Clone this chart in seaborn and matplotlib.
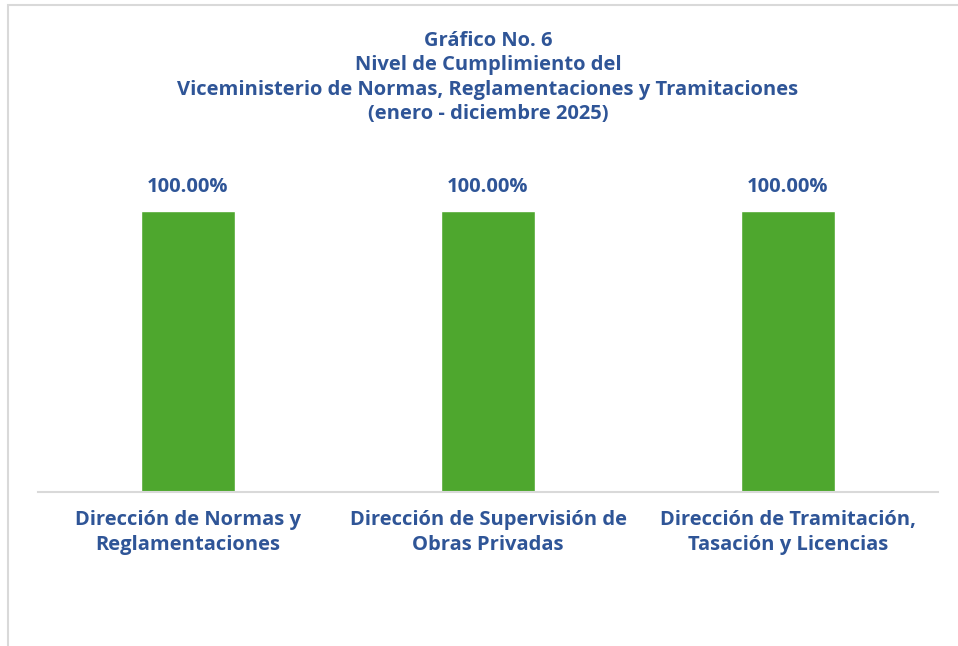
import seaborn as sns
import matplotlib.pyplot as plt
import matplotlib.patches as mpatches
import pandas as pd

categories = [
    "Dirección de Normas y\nReglamentaciones",
    "Dirección de Supervisión de\nObras Privadas",
    "Dirección de Tramitación,\nTasación y Licencias",
]
values = [100.0, 100.0, 100.0]
title_text = ("Gráfico No. 6\nNivel de Cumplimiento del\n"
              "Viceministerio de Normas, Reglamentaciones y Tramitaciones\n"
              "(enero - diciembre 2025)")

BLUE = "#2F5597"
GREEN = "#4EA72E"
FS = 14.5


def main():
    data = pd.DataFrame({"Dirección": categories, "Cumplimiento": values})

    sns.set_theme(style="white")
    plt.rcParams["font.family"] = ["Open Sans", "DejaVu Sans"]

    fig = plt.figure(figsize=(9.58, 6.46), dpi=100)
    ax = fig.add_axes([38 / 958, (646 - 492) / 646, 900 / 958, 337 / 646])

    sns.barplot(x="Dirección", y="Cumplimiento", data=data, color=GREEN,
                width=0.315, saturation=1, ax=ax)

    ax.set_ylim(0, 120)
    ax.set_xlim(-0.5, 2.5)
    ax.set_yticks([])
    ax.set_xlabel("")
    ax.set_ylabel("")
    for side in ["top", "right", "left"]:
        ax.spines[side].set_visible(False)
    ax.spines["bottom"].set_color("#D9D9D9")
    ax.spines["bottom"].set_linewidth(1.5)
    ax.tick_params(axis="x", length=0, pad=13)
    for lbl in ax.get_xticklabels():
        lbl.set_fontsize(FS)
        lbl.set_fontweight("bold")
        lbl.set_color(BLUE)
        lbl.set_linespacing(1.3)

    for i, v in enumerate(values):
        ax.text(i, v + 5, f"{v:.2f}%", ha="center", va="bottom",
                fontsize=FS, fontweight="bold", color=BLUE)

    fig.text(488 / 958, 1 - 31 / 646, title_text, ha="center", va="top",
             fontsize=FS, fontweight="bold", color=BLUE, linespacing=1.29)

    # chart border
    fig.patches.append(mpatches.Rectangle(
        (8 / 958, -0.01), 1.0, 1 - 5 / 646 + 0.01, transform=fig.transFigure,
        fill=False, edgecolor="#D9D9D9", linewidth=1.5))

    fig.savefig("out.png", dpi=100)


if __name__ == "__main__":
    main()
